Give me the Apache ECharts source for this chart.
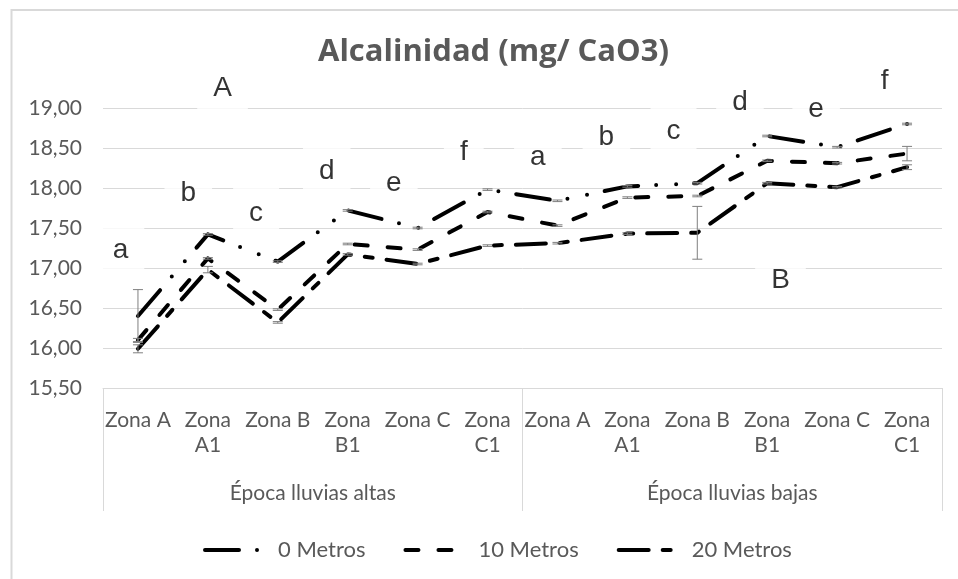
<!DOCTYPE html>
<html>
<head>
<meta charset="utf-8">
<script src="https://cdn.jsdelivr.net/npm/echarts@6/dist/echarts.min.js"></script>
<style>
  html, body { margin: 0; padding: 0; background: #fff; }
  #chart { width: 958px; height: 579px; }
</style>
</head>
<body>
<div id="chart"></div>
<script>
const categories = ['Zona A', 'Zona A1', 'Zona B', 'Zona B1', 'Zona C', 'Zona C1',
  'Zona A', 'Zona A1', 'Zona B', 'Zona B1', 'Zona C', 'Zona C1']
const seasons = ['Época lluvias altas', 'Época lluvias bajas']
const seriesNames = ['0 Metros', '10 Metros', '20 Metros']

const m0 = [16.40, 17.42, 17.08, 17.72, 17.50, 17.98, 17.84, 18.02, 18.06, 18.65, 18.51, 18.80]
const m10 = [16.10, 17.12, 16.48, 17.30, 17.23, 17.70, 17.53, 17.88, 17.90, 18.34, 18.31, 18.43]
const m20 = [15.99, 16.98, 16.32, 17.17, 17.05, 17.28, 17.31, 17.43, 17.44, 18.06, 18.01, 18.26]

// error bar half-widths
const e0 = [0.33, 0.01, 0.01, 0.01, 0.01, 0.01, 0.01, 0.01, 0.01, 0.01, 0.01, 0.01]
const e10 = [0.02, 0.01, 0.01, 0.01, 0.01, 0.01, 0.01, 0.01, 0.01, 0.01, 0.01, 0.09]
const e20 = [0.05, 0.04, 0.01, 0.01, 0.01, 0.01, 0.01, 0.01, 0.33, 0.01, 0.01, 0.03]

// letters written on the plot (x in category units, y in axis units)
const letterText = ['A', 'a', 'b', 'c', 'd', 'e', 'f', 'a', 'b', 'c', 'd', 'e', 'f', 'B']
const letterX = [1.71, 0.25, 1.22, 2.19, 3.20, 4.16, 5.16, 6.22, 7.20, 8.16, 9.11, 10.20, 11.18, 9.69]
const letterY = [19.25, 17.22, 17.93, 17.68, 18.21, 18.06, 18.45, 18.38, 18.63, 18.71, 19.07, 18.98, 19.33, 16.85]

const gray = '#595959'
const light = '#d9d9d9'

const chart = echarts.init(document.getElementById('chart'), null, { renderer: 'canvas' })

function errorSeries (values, errs) {
  return {
    type: 'custom',
    xAxisIndex: 0,
    yAxisIndex: 0,
    z: 5,
    silent: true,
    data: values.map((v, i) => [i, v - errs[i], v + errs[i]]),
    renderItem: function (params, api) {
      const lo = api.coord([api.value(0), api.value(1)])
      const hi = api.coord([api.value(0), api.value(2)])
      const w = 5
      const style = { stroke: '#7f7f7f', lineWidth: 1 }
      return {
        type: 'group',
        children: [
          { type: 'line', shape: { x1: lo[0], y1: lo[1], x2: hi[0], y2: hi[1] }, style: style },
          { type: 'line', shape: { x1: lo[0] - w, y1: lo[1], x2: lo[0] + w, y2: lo[1] }, style: style },
          { type: 'line', shape: { x1: hi[0] - w, y1: hi[1], x2: hi[0] + w, y2: hi[1] }, style: style }
        ]
      }
    }
  }
}

function lineSeries (name, values, dash) {
  return {
    name: name,
    type: 'line',
    xAxisIndex: 0,
    yAxisIndex: 0,
    z: 3,
    symbol: 'none',
    data: values,
    itemStyle: { color: '#000' },
    lineStyle: { color: '#000', width: 4, type: dash, cap: 'round', join: 'round' }
  }
}

const option = {
  animation: false,
  backgroundColor: '#fff',
  title: {
    text: 'Alcalinidad (mg/ CaO3)',
    left: 313,
    top: 32,
    textStyle: { fontFamily: 'Open Sans', fontWeight: 'bold', fontSize: 31, color: gray }
  },
  graphic: [{
    type: 'rect',
    left: 9,
    top: 7.5,
    shape: { width: 965, height: 590 },
    style: { fill: 'none', stroke: light, lineWidth: 2 },
    silent: true
  }],
  legend: {
    left: 198,
    top: 533,
    itemWidth: 62,
    itemHeight: 14,
    itemGap: 38,
    data: seriesNames,
    itemStyle: { color: 'rgba(0,0,0,0)', borderColor: 'rgba(0,0,0,0)', borderWidth: 0 },
    lineStyle: { width: 4, cap: 'round' },
    textStyle: { color: gray, fontFamily: 'Lato', fontSize: 22, lineHeight: 24, padding: [0, 0, 0, 6] }
  },
  grid: { left: 103, right: 16, top: 108, bottom: 191, containLabel: false },
  xAxis: [{
    type: 'category',
    data: categories,
    boundaryGap: true,
    axisLine: { show: true, lineStyle: { color: light, width: 1 } },
    axisTick: { show: false },
    axisLabel: {
      interval: 0,
      margin: 20,
      color: gray,
      fontFamily: 'Lato',
      fontSize: 21,
      lineHeight: 25,
      formatter: v => /\d$/.test(v) ? v.replace(' ', '\n') : v
    }
  }, {
    type: 'category',
    data: seasons,
    position: 'bottom',
    boundaryGap: true,
    axisLine: { show: false },
    axisTick: { show: true, length: 123, lineStyle: { color: light, width: 1 } },
    axisLabel: { margin: 93, color: gray, fontFamily: 'Lato', fontSize: 21, lineHeight: 25 }
  }, {
    type: 'value',
    min: 0,
    max: 12,
    show: false
  }],
  yAxis: {
    type: 'value',
    min: 15.5,
    max: 19,
    interval: 0.5,
    axisLine: { show: false },
    axisTick: { show: false },
    splitLine: { lineStyle: { color: light, width: 1 } },
    axisLabel: {
      margin: 21,
      color: gray,
      fontFamily: 'Lato',
      fontSize: 21,
      formatter: v => v.toFixed(2).replace('.', ',')
    }
  },
  series: [
    {
      type: 'scatter',
      xAxisIndex: 2,
      yAxisIndex: 0,
      z: 1,
      clip: false,
      silent: true,
      symbolSize: 0,
      data: letterText.map((t, i) => ({ name: t, value: [letterX[i], letterY[i]] })),
      label: {
        show: true,
        position: 'inside',
        formatter: p => p.name,
        fontFamily: "'Liberation Sans', Arial, sans-serif",
        fontSize: 28,
        lineHeight: 32,
        color: '#000',
        backgroundColor: '#fff',
        padding: [10, 16]
      }
    },
    lineSeries(seriesNames[0], m0, [34, 18, 0, 20, 0, 18]),
    lineSeries(seriesNames[1], m10, [13, 20]),
    lineSeries(seriesNames[2], m20, [30, 14, 8, 14]),
    errorSeries(m0, e0),
    errorSeries(m10, e10),
    errorSeries(m20, e20)
  ]
}

chart.setOption(option)
</script>
</body>
</html>
